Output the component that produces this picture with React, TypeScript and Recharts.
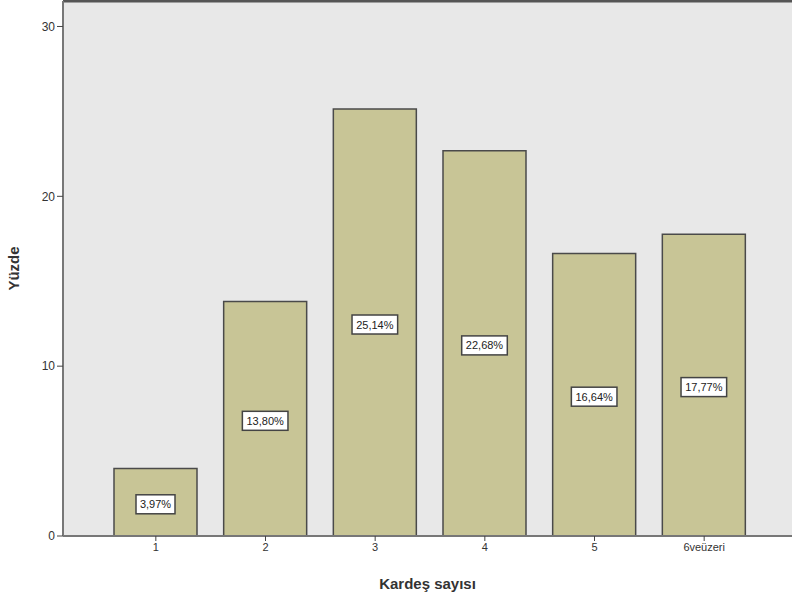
import { BarChart, Bar, XAxis, YAxis, CartesianGrid, ReferenceLine, LabelList } from "recharts";

const categories = ["1", "2", "3", "4", "5", "6veüzeri"];
const percents = [3.97, 13.8, 25.14, 22.68, 16.64, 17.77];
const yTicks = [0, 10, 20, 30];

const data = categories.map((name, i) => ({ name, value: percents[i] }));

const fmt = (v: number) => v.toFixed(2).replace(".", ",") + "%";

// boxed percentage in the middle of each bar
const BoxLabel = (props: any) => {
  const { x, y, width, height, value } = props;
  const text = fmt(value);
  const w = text.length * 6.6 + 6;
  const h = 19;
  const cx = x + width / 2;
  const cy = y + height / 2 + 2;
  return (
    <g>
      <rect x={cx - w / 2} y={cy - h / 2} width={w} height={h} fill="#ffffff" stroke="#444" strokeWidth={1.5} />
      <text x={cx} y={cy + 4} textAnchor="middle" fontSize={11} fontFamily="Liberation Sans, Arial, sans-serif" fill="#222">
        {text}
      </text>
    </g>
  );
};

export default function App() {
  return (
    <div style={{ position: "absolute", left: 0, top: 0, background: "#fff" }}>
      <BarChart width={792} height={603} data={data} margin={{ top: 1, right: 0, left: 0, bottom: 0 }}>
        <CartesianGrid horizontal={false} vertical={false} fill="#e8e8e8" />
        <XAxis
          dataKey="name"
          height={67}
          padding={{ left: 38, right: 33 }}
          axisLine={{ stroke: "#777", strokeWidth: 2 }}
          tickLine={{ stroke: "#444" }}
          tickSize={5}
          tick={{ fontSize: 11, fill: "#333", fontFamily: "Liberation Sans, Arial, sans-serif" }}
          label={{ value: "Kardeş sayısı", position: "insideBottom", offset: 14, style: { fontSize: 15, fontWeight: "bold", fill: "#333", fontFamily: "Liberation Sans, Arial, sans-serif" } }}
        />
        <YAxis
          width={63}
          domain={[0, 31.5]}
          ticks={yTicks}
          axisLine={{ stroke: "#777", strokeWidth: 2 }}
          tickLine={{ stroke: "#444" }}
          tickSize={6}
          tick={{ fontSize: 12, fill: "#333", fontFamily: "Liberation Sans, Arial, sans-serif" }}
          label={{ value: "Yüzde", angle: -90, position: "insideLeft", offset: 14, style: { fontSize: 15, fontWeight: "bold", fill: "#333", fontFamily: "Liberation Sans, Arial, sans-serif", textAnchor: "middle" } }}
        />
        <ReferenceLine y={31.5} stroke="#555" strokeWidth={3} />
        <Bar dataKey="value" fill="#c8c596" stroke="#4a4a4a" strokeWidth={1.5} barSize={83} isAnimationActive={false}>
          <LabelList dataKey="value" content={BoxLabel} />
        </Bar>
      </BarChart>
    </div>
  );
}
